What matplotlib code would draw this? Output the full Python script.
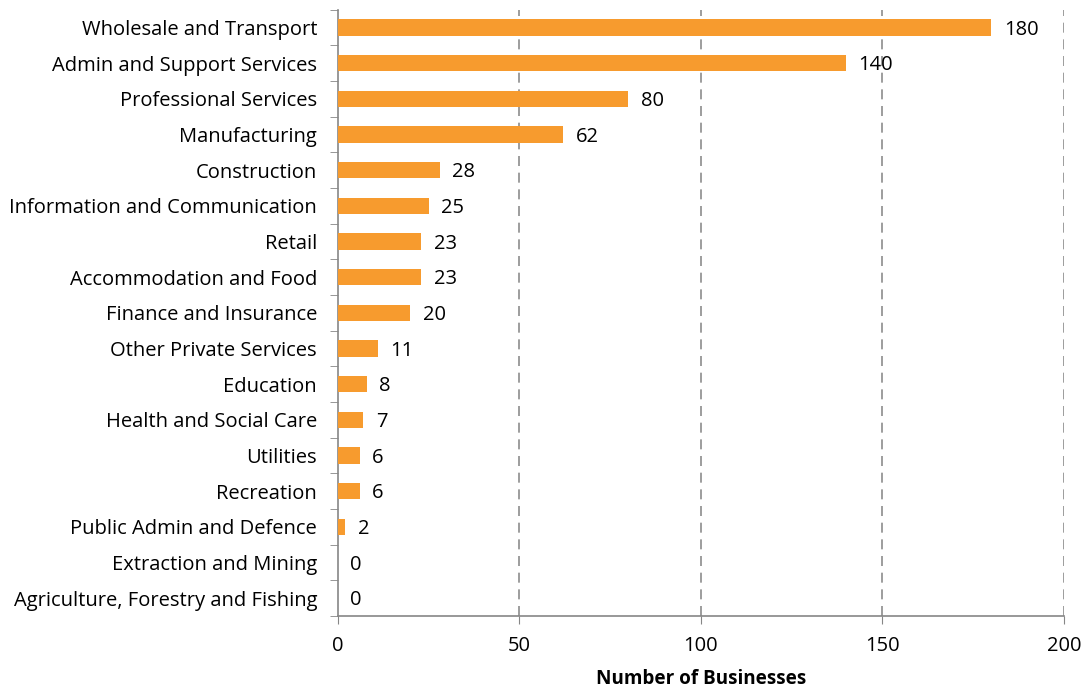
import matplotlib.pyplot as plt

plt.rcParams['font.family'] = ['Open Sans', 'DejaVu Sans']

# sectors top to bottom, with business counts
sectors = [
    "Wholesale and Transport",
    "Admin and Support Services",
    "Professional Services",
    "Manufacturing",
    "Construction",
    "Information and Communication",
    "Retail",
    "Accommodation and Food",
    "Finance and Insurance",
    "Other Private Services",
    "Education",
    "Health and Social Care",
    "Utilities",
    "Recreation",
    "Public Admin and Defence",
    "Extraction and Mining",
    "Agriculture, Forestry and Fishing",
]
counts = [180, 140, 80, 62, 28, 25, 23, 23, 20, 11, 8, 7, 6, 6, 2, 0, 0]
x_ticks = [0, 50, 100, 150, 200]

BAR_COLOR = "#F79B2E"
AXIS_COLOR = "#868686"
FS = 14.5

fig = plt.figure(figsize=(10.9, 6.93), dpi=100)
ax = fig.add_axes([0.310, 0.111, 0.666, 0.875])

n = len(sectors)
ypos = list(range(n))[::-1]
ax.barh(ypos, counts, height=0.46, color=BAR_COLOR, zorder=3)

for y, v in zip(ypos, counts):
    ax.annotate(str(v), (v, y), xytext=(9, -1.5), textcoords="offset points",
                va="center", ha="left", fontsize=FS, color="black")

ax.set_xlim(0, 200)
ax.set_ylim(-0.5, n - 0.5)
ax.set_xticks(x_ticks)
ax.set_xticklabels([str(t) for t in x_ticks], fontsize=FS)

# category labels at centres, tick marks at boundaries
ax.set_yticks(ypos)
ax.set_yticklabels(sectors, fontsize=FS)
ax.tick_params(axis="y", which="major", length=0, pad=15)
ax.set_yticks([i - 0.5 for i in range(n + 1)], minor=True)
ax.tick_params(axis="y", which="minor", length=6, color=AXIS_COLOR, direction="out")
ax.tick_params(axis="x", length=6, color=AXIS_COLOR, direction="out", pad=8)

for t in x_ticks[1:]:
    ax.axvline(t, color="#8C8C8C", linestyle=(0, (6, 4)), linewidth=1.2, zorder=1)

for side in ["top", "right"]:
    ax.spines[side].set_visible(False)
for side in ["left", "bottom"]:
    ax.spines[side].set_color(AXIS_COLOR)
    ax.spines[side].set_linewidth(1.2)

ax.set_xlabel("Number of Businesses", fontsize=13.6, fontweight="bold", labelpad=10)

fig.savefig("out.png", dpi=100)
